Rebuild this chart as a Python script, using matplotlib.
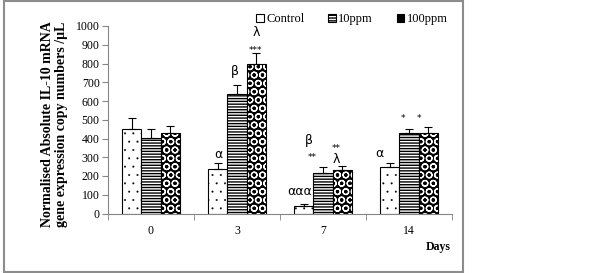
import numpy as np
import matplotlib
matplotlib.use('Agg')
import matplotlib.pyplot as plt
from matplotlib.patches import Rectangle, Patch

# data
days = ['0', '3', '7', '14']
control = [450, 235, 40, 249]
control_err = [60, 37, 10, 23]
ppm10 = [404, 639, 217, 427]
ppm10_err = [45, 47, 32, 26]
ppm100 = [427, 795, 231, 427]
ppm100_err = [38, 62, 25, 35]

# significance marks: (text, x in category units, y value, fontsize)
marks = [
    ('α', 0.78, 312, 9), ('β', 0.98, 760, 9), ('λ', 1.22, 963, 9), ('***', 1.22, 868, 6.5),
    ('ααα', 1.73, 115, 9), ('β', 1.84, 387, 9), ('**', 1.88, 298, 6.5),
    ('λ', 2.15, 290, 9), ('**', 2.15, 346, 6.5),
    ('α', 2.65, 322, 9), ('*', 2.93, 506, 6.5), ('*', 3.12, 506, 6.5),
]

plt.rcParams['font.family'] = 'Liberation Serif'
plt.rcParams['hatch.linewidth'] = 1.0
axis_gray = '#858585'


def hatch_lw(container, lw):
    for p in container.patches:
        if hasattr(p, 'set_hatch_linewidth'):
            p.set_hatch_linewidth(lw)


fig = plt.figure(figsize=(6.02, 2.73), dpi=100)
ax = fig.add_axes([108 / 602, 59.5 / 273, 344 / 602, 187.5 / 273])

x = np.arange(len(days))
w = 0.225

b1 = ax.bar(x - w, control, w, color='white', edgecolor='black', hatch='..', linewidth=0.8, zorder=2)
hatch_lw(b1, 0.2)
ax.bar(x, ppm10, w, color='white', edgecolor='black', hatch='------', linewidth=0.8, zorder=2)
b3 = ax.bar(x + w, ppm100, w, color='black', edgecolor='white', hatch='OO', linewidth=0, zorder=2)
hatch_lw(b3, 0.9)
ax.bar(x + w, ppm100, w, fill=False, edgecolor='black', linewidth=0.8, zorder=3)

for off, vals, errs in [(-w, control, control_err), (0, ppm10, ppm10_err), (w, ppm100, ppm100_err)]:
    ax.errorbar(x + off, vals, yerr=[np.zeros(len(errs)), errs], fmt='none',
                ecolor='black', elinewidth=0.8, capsize=3, capthick=0.8, zorder=4)

for txt, mx, my, fs in marks:
    ax.text(mx, my, txt, ha='center', va='center', fontsize=fs, family='DejaVu Sans')

ax.set_xlim(-0.5, 3.5)
ax.set_ylim(0, 1000)
ax.set_yticks(np.arange(0, 1001, 100))
ax.set_xticks(x)
ax.set_xticklabels(days)
ax.set_xticks(np.arange(-0.5, 4, 1), minor=True)
ax.tick_params(axis='x', which='major', length=0, pad=8, labelsize=8.5)
ax.tick_params(axis='x', which='minor', length=4, color=axis_gray)
ax.tick_params(axis='y', length=4, color=axis_gray, pad=2, labelsize=8.5)
for s in ['top', 'right']:
    ax.spines[s].set_visible(False)
for s in ['left', 'bottom']:
    ax.spines[s].set_color(axis_gray)

fig.text(54.5 / 602, 1 - 124 / 273,
         'Normalised Absolute IL-10 mRNA\ngene expression copy numbers /µL',
         rotation=90, ha='center', va='center', fontsize=10, fontweight='bold',
         linespacing=1.1, multialignment='center')
fig.text(438 / 602, 1 - 247 / 273, 'Days', ha='center', va='center',
         fontsize=8.5, fontweight='bold')

handles = [Patch(facecolor='white', edgecolor='black', linewidth=0.8),
           Patch(facecolor='white', edgecolor='black', hatch='------', linewidth=0.8),
           Patch(facecolor='black', edgecolor='black', hatch='OOO', linewidth=0.8)]
fig.legend(handles, ['Control', '10ppm', '100ppm'], loc='center', ncol=3,
           bbox_to_anchor=(352 / 602, 1 - 19 / 273), frameon=False, fontsize=9,
           handlelength=0.6, handleheight=0.6, handletextpad=0.2, columnspacing=1.9)

fig.patches.append(Rectangle((4 / 602, 1 / 273), 459 / 602, 271 / 273, transform=fig.transFigure,
                             fill=False, edgecolor='#8c8c8c', linewidth=1.5))

fig.savefig('out.png', dpi=100)
